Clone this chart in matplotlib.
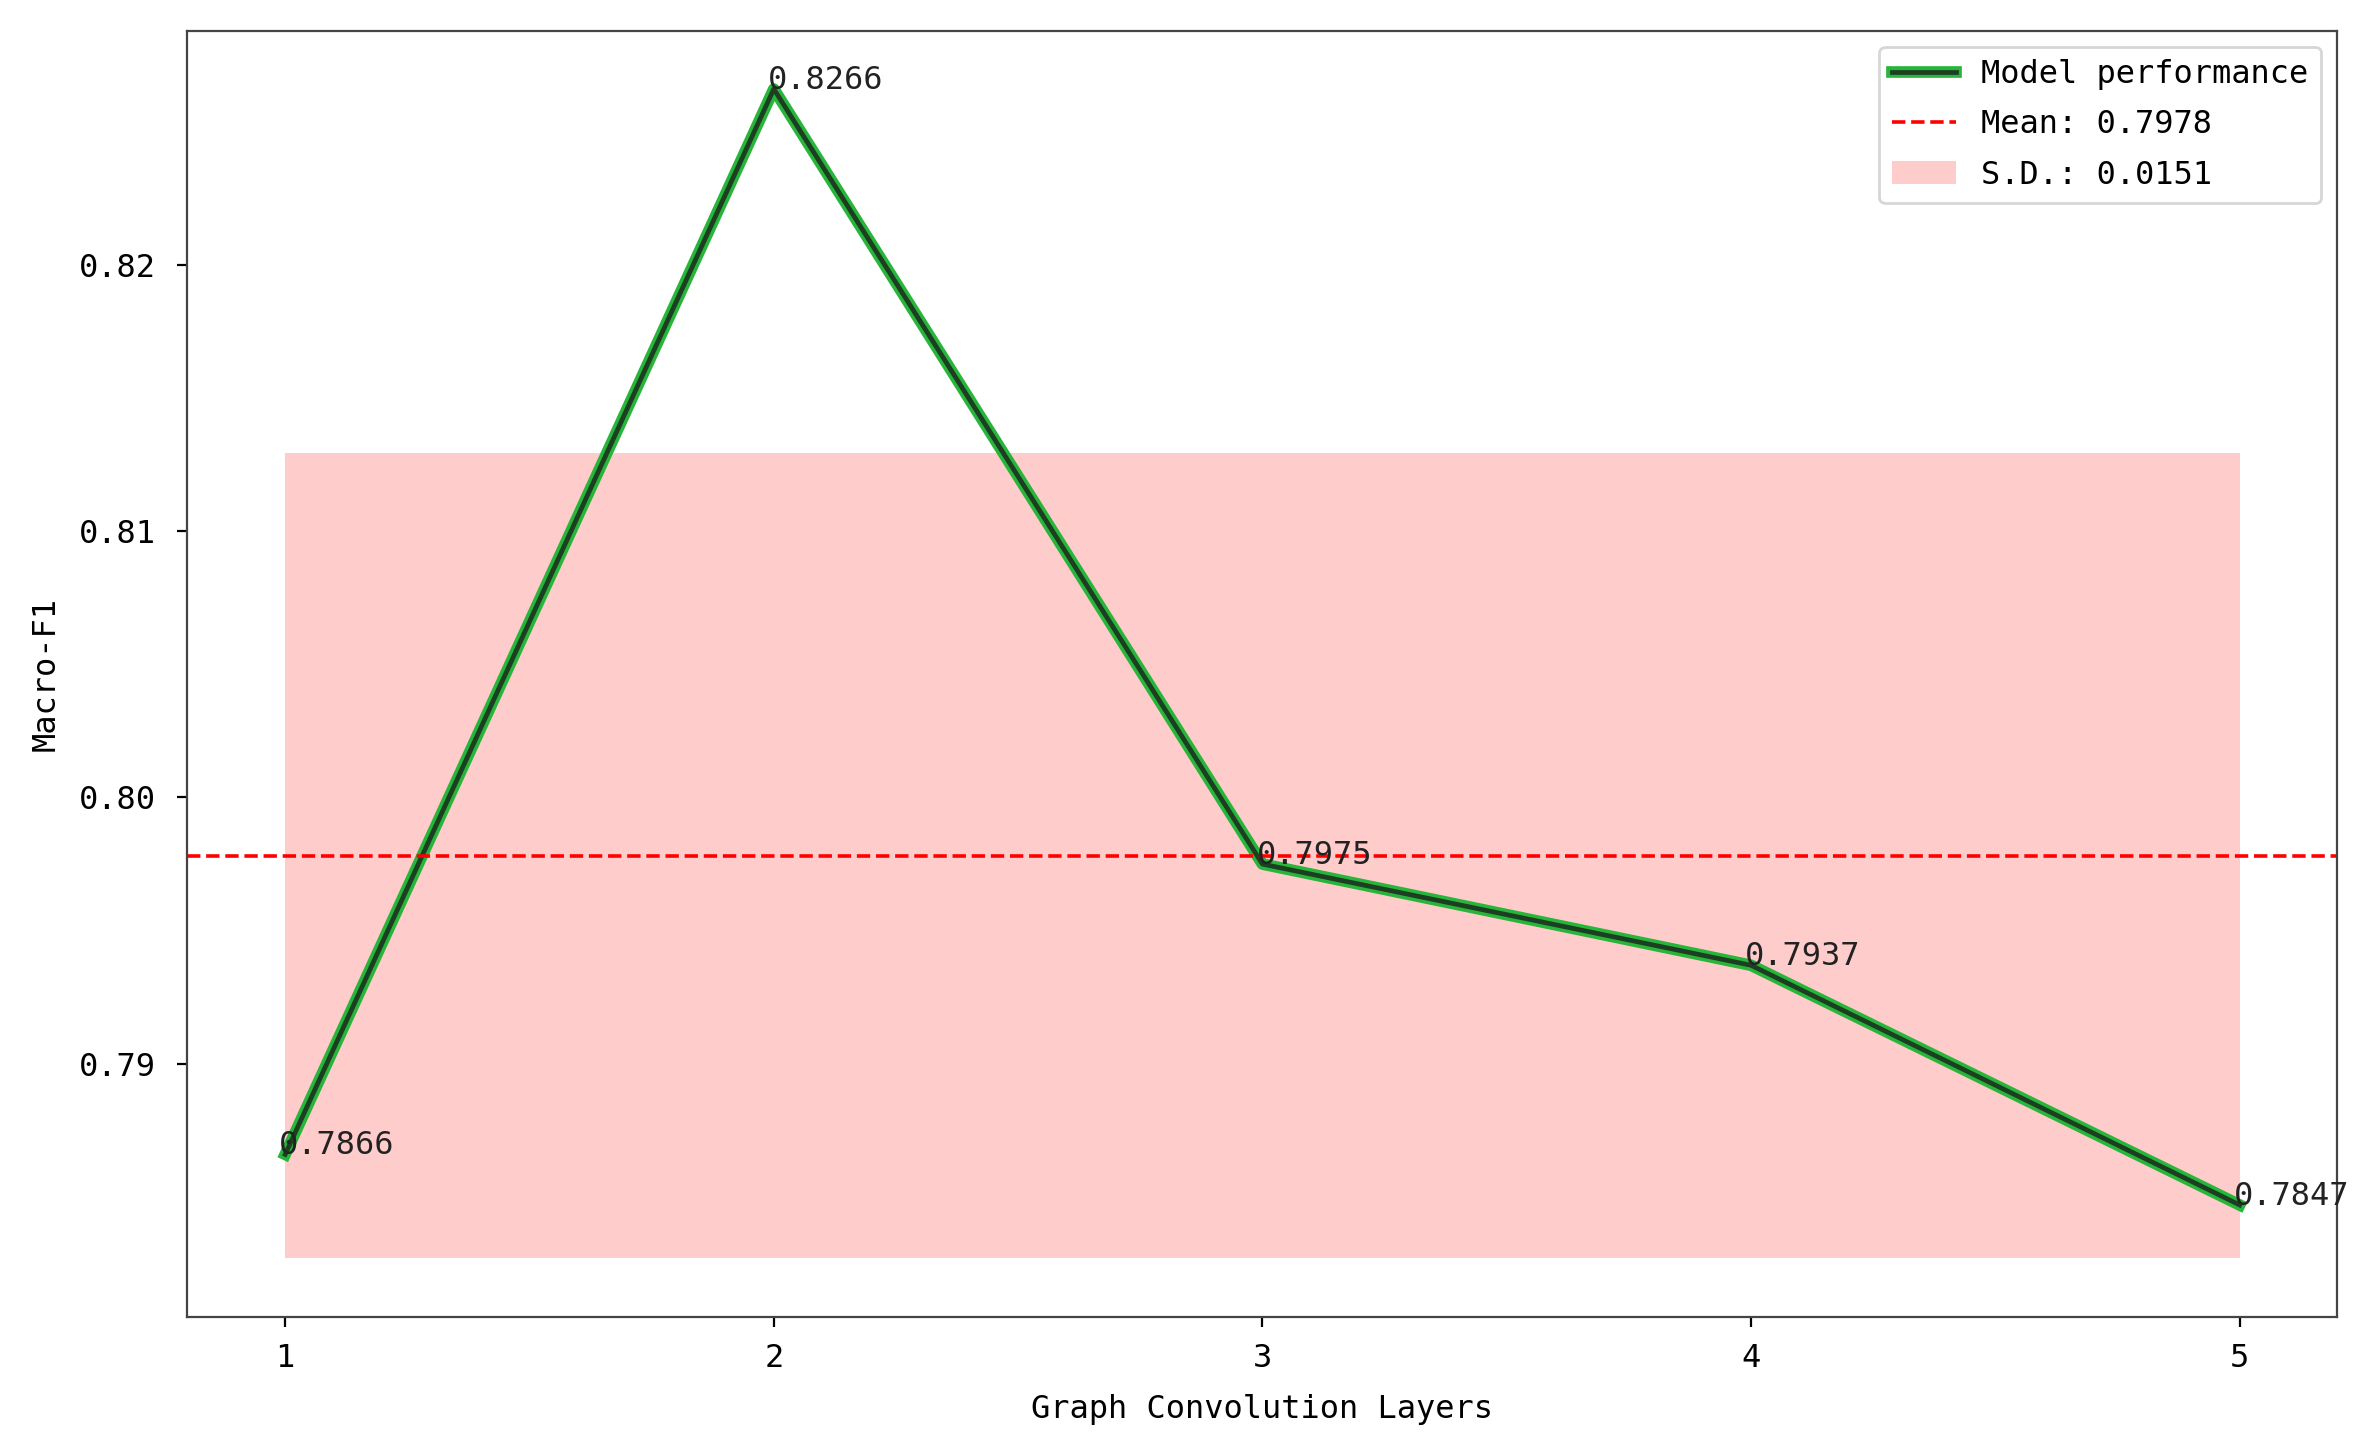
import numpy as np
import matplotlib
matplotlib.use('Agg')
import matplotlib.pyplot as plt
import matplotlib.patheffects as pe

# 図の値
layers = [1, 2, 3, 4, 5]
macro_f1 = [0.7866, 0.8266, 0.7975, 0.7937, 0.7847]

plt.rcParams['font.family'] = ['DejaVu Sans Mono']
plt.rcParams['font.size'] = 11.5

mean_f1 = np.mean(macro_f1)
sd_f1 = np.std(macro_f1)

fig, ax = plt.subplots(figsize=(11.865, 7.275), dpi=200)
fig.subplots_adjust(left=0.079, right=0.985, top=0.979, bottom=0.095)

ax.plot(layers, macro_f1, color='#1c3f22', linewidth=1.7, label='Model performance',
        path_effects=[pe.Stroke(linewidth=4.2, foreground='#27b53a'), pe.Normal()])
ax.axhline(mean_f1, color='red', linestyle='--', linewidth=1.3, label=f'Mean: {mean_f1:.4f}')
ax.fill_between(layers, mean_f1 - sd_f1, mean_f1 + sd_f1, color='red', alpha=0.2,
                linewidth=0, label=f'S.D.: {sd_f1:.4f}')

# 各点の値
for x, y in zip(layers, macro_f1):
    ax.text(x - 0.012, y, f'{y:.4f}', color='#222222')

ax.set_xticks(layers)
ax.set_yticks([0.79, 0.80, 0.81, 0.82])
ax.tick_params(axis='x', pad=6)
ax.tick_params(axis='y', pad=8)
ax.set_xlabel('Graph Convolution Layers', labelpad=7)
ax.set_ylabel('Macro-F1', labelpad=6)
for s in ax.spines.values():
    s.set_color('#444444')
ax.legend(loc='upper right', labelspacing=0.6)

plt.savefig('out.png')
plt.close()
